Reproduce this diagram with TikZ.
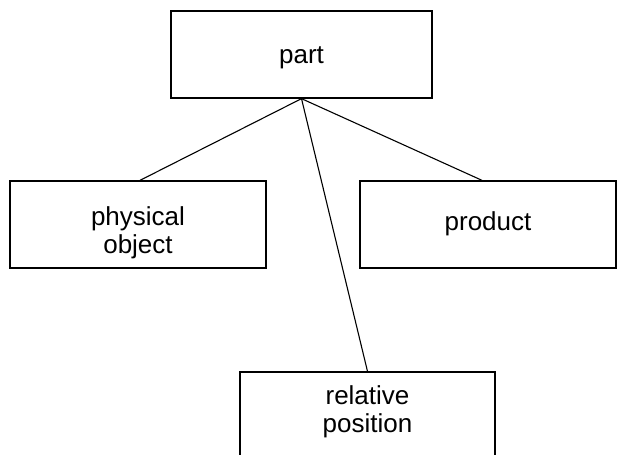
\documentclass[tikz,border=0pt]{standalone}
\usepackage{fontspec}
\setmainfont{Liberation Sans}
\begin{document}
\begin{tikzpicture}[x=1pt,y=-1pt,
  box/.style={draw=black, line width=1.3pt, rectangle, inner sep=0pt,
    minimum width=256pt, minimum height=87pt},
  lbl/.style={inner sep=0pt, align=center, anchor=base,
    font=\fontsize{26}{27.5}\selectfont},
  link/.style={draw=black, line width=1.1pt}]
  \useasboundingbox (0,0) rectangle (619,455);
  % frames
  \node[box, minimum width=261pt] (part) at (301.5,54.5) {};
  \node[box] (phys) at (138,224.5) {};
  \node[box] (prod) at (488,224.5) {};
  \node[box, minimum width=255pt, minimum height=110pt] (rel) at (367.5,427) {};
  % labels (base anchor sits on the last line)
  \node[lbl] (partT) at (301.5,63) {part};
  \node[lbl] (physT) at (138,253) {physical\\object};
  \node[lbl] (prodT) at (488,230) {product};
  \node[lbl] (relT) at (367.5,432) {relative\\position};
  % connectors
  \draw[link] (part.south) -- ([xshift=2pt]phys.north);
  \draw[link] (part.south) -- ([xshift=-6pt]prod.north);
  \draw[link] (part.south) -- (rel.north);
\end{tikzpicture}
\end{document}
